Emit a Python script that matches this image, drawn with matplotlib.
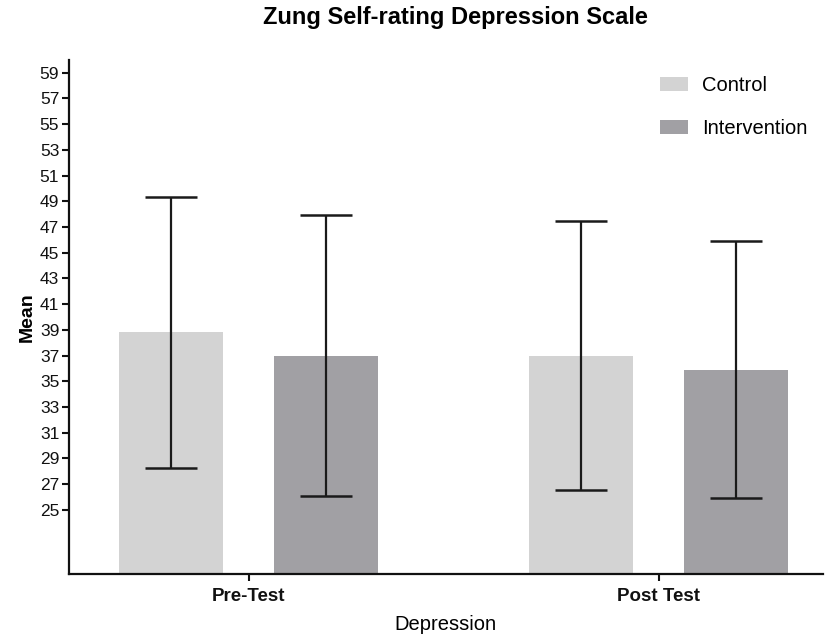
import matplotlib
matplotlib.use("Agg")
import matplotlib.pyplot as plt
import numpy as np
from matplotlib.patches import Patch

# Zung SDS scores: mean and standard deviation per group and time point
timepoints = ["Pre-Test", "Post Test"]
groups = ["Control", "Intervention"]
control_mean = [38.8, 37.0]
control_sd = [10.55, 10.45]
intervention_mean = [37.0, 35.9]
intervention_sd = [10.95, 10.0]
yticks = list(range(25, 60, 2))

colors = {"Control": "#d3d3d3", "Intervention": "#a1a0a4"}

plt.rcParams["font.family"] = ["Liberation Sans", "DejaVu Sans"]

fig = plt.figure(figsize=(8.31, 6.39), dpi=100)
ax = fig.add_axes([0.083, 0.1017, 0.907, 0.8045])

x = np.arange(len(timepoints))
width = 0.254
offset = 0.189

err_style = dict(ecolor="#1a1a1a", elinewidth=1.6, capsize=18.5, capthick=1.8)
ax.bar(x - offset, control_mean, width, color=colors["Control"],
       yerr=control_sd, error_kw=err_style, zorder=2)
ax.bar(x + offset, intervention_mean, width, color=colors["Intervention"],
       yerr=intervention_sd, error_kw=err_style, zorder=2)

ax.set_ylim(20, 60)
ax.set_xlim(-0.438, 1.4)
ax.set_yticks(yticks)
ax.set_yticklabels([str(t) for t in yticks], fontsize=12.5)
ax.set_xticks(x)
ax.set_xticklabels(timepoints, fontsize=13.5, fontweight="bold")

for side in ("top", "right"):
    ax.spines[side].set_visible(False)
for side in ("left", "bottom"):
    ax.spines[side].set_linewidth(1.6)
    ax.spines[side].set_color("#111111")
ax.tick_params(axis="y", length=5, width=1.5, pad=2, colors="#111111")
ax.tick_params(axis="x", length=5, width=1.5, pad=5, colors="#111111")

ax.set_ylabel("Mean", fontsize=14, fontweight="bold", labelpad=3)
ax.set_xlabel("Depression", fontsize=14.5, labelpad=7)
fig.suptitle("Zung Self-rating Depression Scale", fontsize=17, fontweight="bold",
             x=0.548, y=0.99)

handles = [Patch(facecolor=colors[g], edgecolor="none") for g in groups]
ax.legend(handles, groups, loc="upper left", bbox_to_anchor=(0.772, 0.91),
          bbox_transform=fig.transFigure, frameon=False, fontsize=14.5,
          handlelength=1.4, handleheight=0.7, handletextpad=0.7,
          labelspacing=1.2)

fig.savefig("out.png", dpi=100)
